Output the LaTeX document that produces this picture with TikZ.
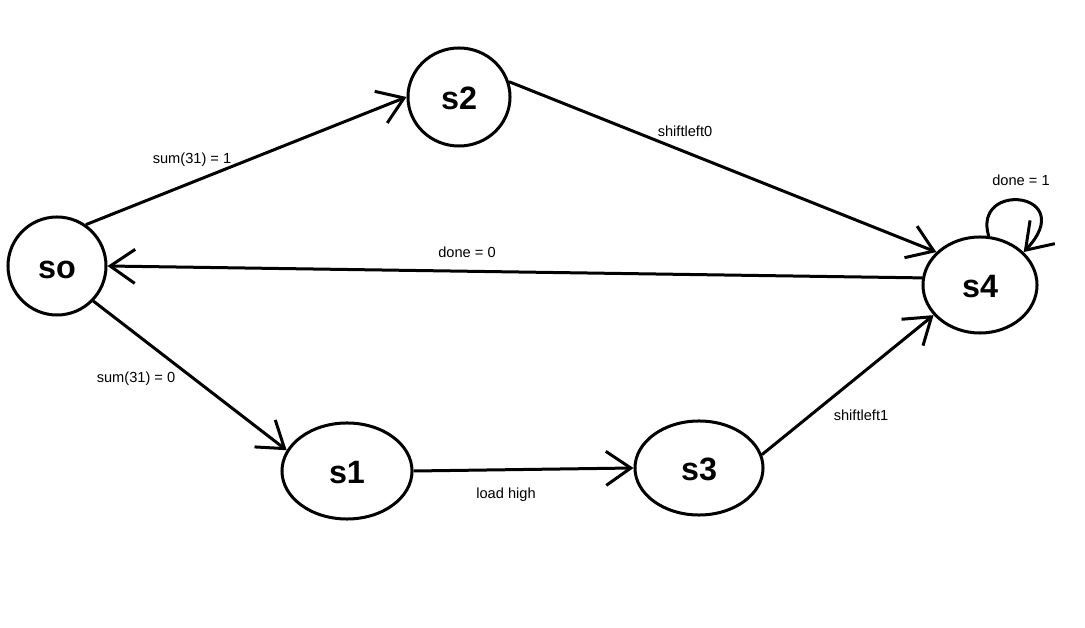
\documentclass[tikz,border=0pt]{standalone}
\usepackage{fontspec}
\setmainfont{Liberation Sans}
\usetikzlibrary{arrows.meta,shapes.geometric}
\begin{document}
\begin{tikzpicture}[x=0.025cm,y=-0.025cm,
  state/.style={draw, ellipse, line width=0.075cm, inner sep=0pt,
    text height=0.62cm, text depth=0pt,
    font=\fontsize{23}{26}\selectfont\bfseries},
  trans/.style={line width=0.075cm,
    -{Straight Barb[length=0.62cm,width=0.85cm,line width=0.075cm]}},
  edgelabel/.style={font=\fontsize{10.4}{12}\selectfont, inner sep=0pt}]
\useasboundingbox[fill=white] (0,0) rectangle (1085,628);

% states
\node[state, minimum width=2.45cm, minimum height=2.45cm] (so) at (57,266) {so};
\node[state, minimum width=2.55cm, minimum height=2.45cm] (s2) at (459,97) {s2};
\node[state, minimum width=2.85cm, minimum height=2.4cm]  (s4) at (980,285) {s4};
\node[state, minimum width=3.25cm, minimum height=2.4cm]  (s1) at (347,471) {s1};
\node[state, minimum width=3.2cm,  minimum height=2.35cm] (s3) at (699,468) {s3};

% transitions
\draw[trans] (so.55) -- (s2.west);
\draw[trans] (s2.17) -- (s4.143);
\draw[trans] (s4.173) -- (so.east);
\draw[trans] (so.-44) -- (s1.161);
\draw[trans] (s1.east) -- (s3.west);
\draw[trans] (s3.12) -- (s4.213);
\draw[trans] (s4.80) .. controls (972,180) and (1080,192) .. (s4.37);

% transition labels
\node[edgelabel] (l02) at (192,160) {sum(31) = 1};
\node[edgelabel] (l24) at (685,131) {shiftleft0};
\node[edgelabel] (l40) at (467,252) {done = 0};
\node[edgelabel] (l44) at (1021,180) {done = 1};
\node[edgelabel] (l01) at (136,379) {sum(31) = 0};
\node[edgelabel] (l13) at (506,495) {load high};
\node[edgelabel] (l34) at (861,415) {shiftleft1};
\end{tikzpicture}
\end{document}
